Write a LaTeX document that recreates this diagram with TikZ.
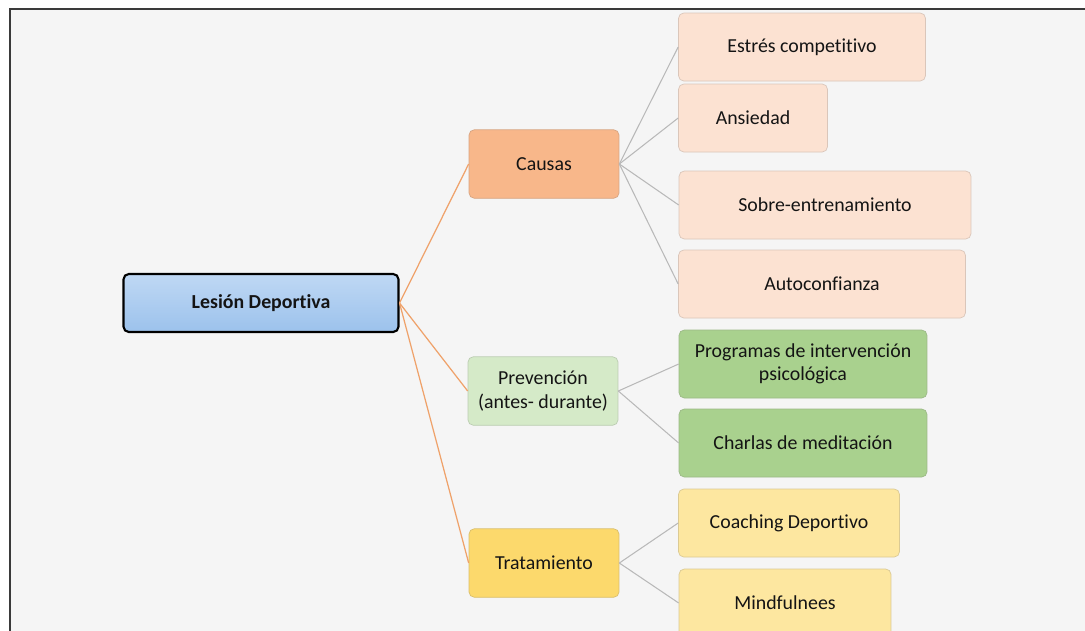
\documentclass[tikz,border=0pt]{standalone}
\usepackage{fontspec}
\setmainfont[Ligatures={NoCommon}]{Carlito}
\usepackage{xcolor}
\usepackage{tikz}
\usetikzlibrary{positioning,calc}

\definecolor{framebg}{HTML}{F5F5F5}
\definecolor{frameline}{HTML}{3A3A3A}
\definecolor{rootTop}{HTML}{BFD8F4}
\definecolor{rootBot}{HTML}{9CC2EC}
\definecolor{causaC}{HTML}{F8B78A}
\definecolor{causaL}{HTML}{FCE2D2}
\definecolor{prevC}{HTML}{D5EAC8}
\definecolor{prevL}{HTML}{A9D18E}
\definecolor{tratC}{HTML}{FCD96C}
\definecolor{tratL}{HTML}{FDE7A0}
\definecolor{linkO}{HTML}{EFA26A}
\definecolor{linkG}{HTML}{B9B9B9}
\definecolor{txt}{HTML}{141414}

\begin{document}
\begin{tikzpicture}[x=0.02cm, y=-0.02cm,
    map box/.style={rectangle, rounded corners=3pt, align=center, text=txt,
        font=\fontsize{11.3}{13.2}\selectfont, inner sep=2pt},
    root box/.style={map box, draw=black, line width=1.2pt, top color=rootTop, bottom color=rootBot,
        font=\bfseries\fontsize{11.3}{13.2}\selectfont, minimum width=5.5cm, minimum height=1.16cm},
    mid box/.style={map box, minimum width=3cm, minimum height=1.37cm},
    leaf box/.style={map box, minimum height=1.36cm},
    main link/.style={draw=linkO, line width=0.7pt},
    sub link/.style={draw=linkG, line width=0.6pt}]
    \useasboundingbox (0,0) rectangle (1085,630);
    \clip (0,0) rectangle (1085,630);
    \fill[white] (0,0) rectangle (1085,630);
    % frame of the slide
    \draw[frameline, line width=1.3pt, fill=framebg] (10,9) rectangle (1110,660);

    \node[root box] (lesion) at (261,303) {Lesión Deportiva};

    \node[mid box, fill=causaC, draw=causaC!85!black!90] (causas) at (544,164) {Causas};
    \node[mid box, fill=prevC, draw=prevC!85!black!90] (prev) at (543,391) {Prevención\\(antes- durante)};
    \node[mid box, fill=tratC, draw=tratC!85!black!90] (trat) at (544,563) {Tratamiento};

    \node[leaf box, fill=causaL, draw=causaL!85!black!90, minimum width=4.94cm] (estres) at (802,47) {Estrés competitivo};
    \node[leaf box, fill=causaL, draw=causaL!85!black!90, minimum width=2.98cm] (ansiedad) at (753,118) {Ansiedad};
    \node[leaf box, fill=causaL, draw=causaL!85!black!90, minimum width=5.84cm] (sobre) at (825,205) {Sobre-entrenamiento};
    \node[leaf box, fill=causaL, draw=causaL!85!black!90, minimum width=5.74cm] (auto) at (822,284) {Autoconfianza};

    \node[leaf box, fill=prevL, draw=prevL!85!black!90, minimum width=4.96cm] (programas) at (803,364) {Programas de intervención\\psicológica};
    \node[leaf box, fill=prevL, draw=prevL!85!black!90, minimum width=4.96cm] (charlas) at (803,443) {Charlas de meditación};

    \node[leaf box, fill=tratL, draw=tratL!85!black!90, minimum width=4.42cm] (coaching) at (789,523) {Coaching Deportivo};
    \node[leaf box, fill=tratL, draw=tratL!85!black!90, minimum width=4.24cm] (mind) at (785,603) {Mindfulnees};

    \draw[main link] (lesion.east) -- (causas.west);
    \draw[main link] (lesion.east) -- (prev.west);
    \draw[main link] (lesion.east) -- (trat.west);

    \draw[sub link] (causas.east) -- (estres.west);
    \draw[sub link] (causas.east) -- (ansiedad.west);
    \draw[sub link] (causas.east) -- (sobre.west);
    \draw[sub link] (causas.east) -- (auto.west);
    \draw[sub link] (prev.east) -- (programas.west);
    \draw[sub link] (prev.east) -- (charlas.west);
    \draw[sub link] (trat.east) -- (coaching.west);
    \draw[sub link] (trat.east) -- (mind.west);
\end{tikzpicture}
\end{document}
